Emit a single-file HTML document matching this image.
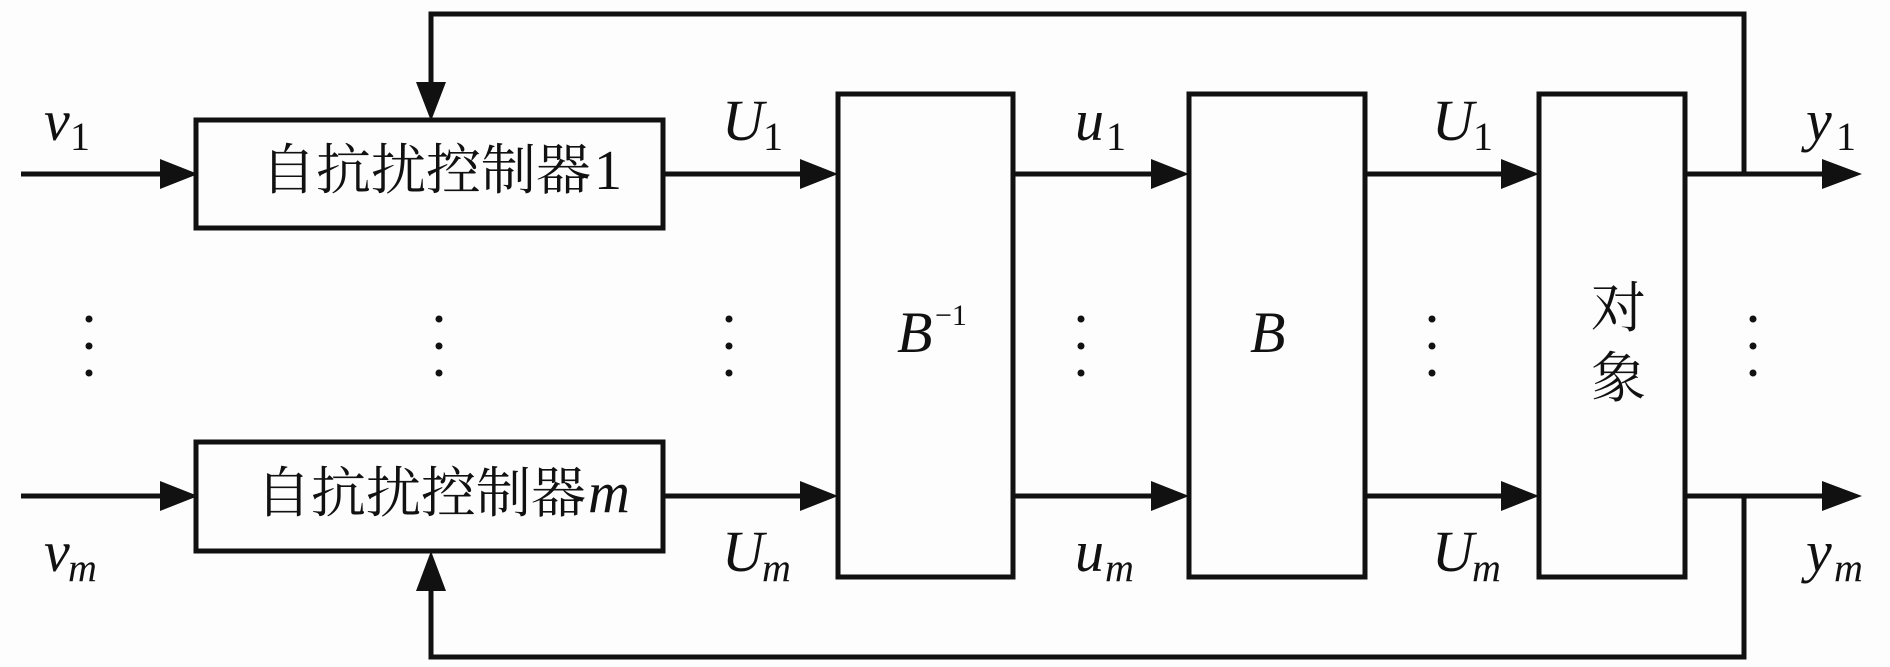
<!DOCTYPE html>
<html><head><meta charset="utf-8"><style>
html,body{margin:0;padding:0;background:#fdfdfd;}
svg{display:block;}
.cj{font-family:"Liberation Serif","Noto Serif CJK SC","Noto Sans CJK SC",serif;font-size:55px;fill:#111;}
.it{font-family:"Liberation Serif","DejaVu Serif",serif;font-style:italic;font-size:58px;fill:#111;}
.sb{font-family:"Liberation Serif","DejaVu Serif",serif;font-size:40px;fill:#111;}
.sbi{font-family:"Liberation Serif","DejaVu Serif",serif;font-style:italic;font-size:40px;fill:#111;}
</style></head><body>
<svg width="1890" height="667" viewBox="0 0 1890 667" xmlns="http://www.w3.org/2000/svg">
<g stroke="#111" stroke-width="5" fill="none">
<rect x="196" y="120" width="467" height="108"/>
<rect x="196" y="442" width="467" height="109"/>
<rect x="838" y="94" width="175" height="483"/>
<rect x="1189" y="94" width="176" height="483"/>
<rect x="1539" y="94" width="146" height="483"/>
<line x1="21" y1="174" x2="165" y2="174"/>
<line x1="21" y1="496" x2="165" y2="496"/>
<line x1="663" y1="174" x2="805" y2="174"/>
<line x1="663" y1="496" x2="805" y2="496"/>
<line x1="1013" y1="174" x2="1155" y2="174"/>
<line x1="1013" y1="496" x2="1155" y2="496"/>
<line x1="1365" y1="174" x2="1505" y2="174"/>
<line x1="1365" y1="496" x2="1505" y2="496"/>
<line x1="1685" y1="174" x2="1825" y2="174"/>
<line x1="1685" y1="496" x2="1825" y2="496"/>
<polyline points="1744,174 1744,14 431,14 431,90"/>
<polyline points="1744,496 1744,657 431,657 431,585"/>
</g>
<g fill="#111">
<polygon points="160,159 198,174 160,189"/>
<polygon points="160,481 198,496 160,511"/>
<polygon points="800,159 838,174 800,189"/>
<polygon points="800,481 838,496 800,511"/>
<polygon points="1151,159 1189,174 1151,189"/>
<polygon points="1151,481 1189,496 1151,511"/>
<polygon points="1501,159 1539,174 1501,189"/>
<polygon points="1501,481 1539,496 1501,511"/>
<polygon points="1822,159 1862,174 1822,189"/>
<polygon points="1822,481 1862,496 1822,511"/>
<polygon points="416,82 446,82 431,121"/>
<polygon points="416,591 446,591 431,551"/>
<circle cx="89" cy="319" r="3.5"/><circle cx="89" cy="346" r="3.5"/><circle cx="89" cy="373" r="3.5"/>
<circle cx="439" cy="319" r="3.5"/><circle cx="439" cy="346" r="3.5"/><circle cx="439" cy="373" r="3.5"/>
<circle cx="729" cy="319" r="3.5"/><circle cx="729" cy="346" r="3.5"/><circle cx="729" cy="373" r="3.5"/>
<circle cx="1081" cy="319" r="3.5"/><circle cx="1081" cy="346" r="3.5"/><circle cx="1081" cy="373" r="3.5"/>
<circle cx="1432" cy="319" r="3.5"/><circle cx="1432" cy="346" r="3.5"/><circle cx="1432" cy="373" r="3.5"/>
<circle cx="1753" cy="319" r="3.5"/><circle cx="1753" cy="346" r="3.5"/><circle cx="1753" cy="373" r="3.5"/>
</g>
<text class="cj" x="261" y="189" textLength="330" lengthAdjust="spacingAndGlyphs">自抗扰控制器</text>
<text class="sb" x="594" y="189" style="font-size:56px">1</text>
<text class="cj" x="256" y="512" textLength="330" lengthAdjust="spacingAndGlyphs">自抗扰控制器</text>
<text class="it" x="588" y="512">m</text>
<text class="cj" x="1591" y="327">对</text>
<text class="cj" x="1591" y="397">象</text>
<text class="it" x="897" y="352">B</text>
<text class="sb" x="935" y="325" style="font-size:30px">−1</text>
<text class="it" x="1250" y="352">B</text>
<text class="it" x="44" y="140">v</text><text class="sb" x="70" y="150">1</text>
<text class="it" x="44" y="571">v</text><text class="sbi" x="68" y="581">m</text>
<text class="it" x="722" y="140">U</text><text class="sb" x="763" y="150">1</text>
<text class="it" x="722" y="571">U</text><text class="sbi" x="762" y="581">m</text>
<text class="it" x="1075" y="140">u</text><text class="sb" x="1106" y="150">1</text>
<text class="it" x="1075" y="571">u</text><text class="sbi" x="1105" y="581">m</text>
<text class="it" x="1432" y="140">U</text><text class="sb" x="1473" y="150">1</text>
<text class="it" x="1432" y="571">U</text><text class="sbi" x="1472" y="581">m</text>
<text class="it" x="1806" y="140">y</text><text class="sb" x="1836" y="150">1</text>
<text class="it" x="1806" y="571">y</text><text class="sbi" x="1834" y="581">m</text>
</svg>
</body></html>
